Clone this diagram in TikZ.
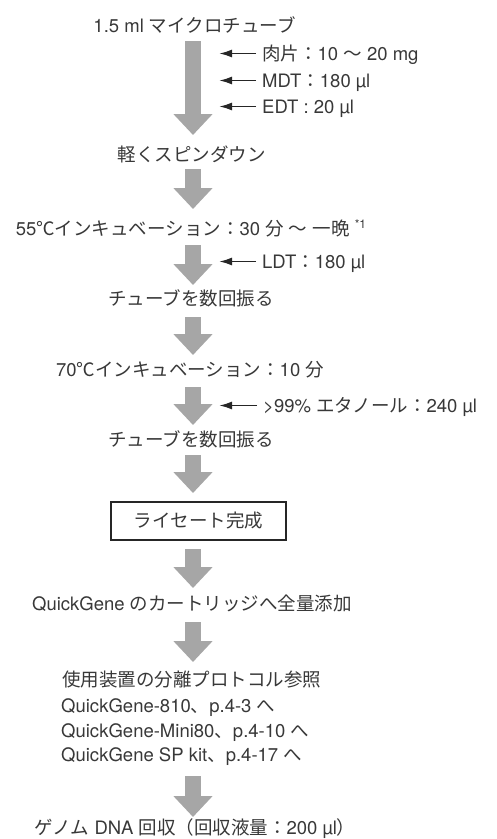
\documentclass[tikz,border=0pt]{standalone}
\usepackage{fontspec}
\setmainfont{TeX Gyre Heros}
\newfontfamily\jp{Noto Sans CJK JP}
\usetikzlibrary{arrows.meta}
\definecolor{agray}{HTML}{A6A6A6}
\definecolor{txt}{HTML}{383838}
\begin{document}
\begin{tikzpicture}[x=1pt,y=-1pt,
  font=\fontsize{18.5}{22}\selectfont,
  lbl/.style={anchor=base, inner sep=0pt, text=txt},
  side/.style={anchor=base west, inner sep=0pt, text=txt, text height=13pt, text depth=0pt},
  bigarrow/.style={draw=agray, line width=16pt, -{Triangle[length=21pt,width=38pt]}},
  addarrow/.style={draw=black!85, line width=1.8pt, -{Latex[length=13pt,width=8pt]}},
  lysbox/.style={draw=black!85, line width=1.1pt, minimum width=175pt, minimum height=38pt, inner sep=0pt, text=txt}]
\useasboundingbox (0,0) rectangle (497,839);

% column coordinate for the small arrows
\coordinate (col) at (219,0);

% texts
\node[lbl] (tube) at (194.5,32) {1.5 ml {\jp マイクロチューブ}};
\node[side] (meat) at (262,60) {{\jp 肉片：}10 {\jp ～} 20 mg};
\node[side] (mdt) at (262,87) {MDT{\jp ：}180 µl};
\node[side] (edt) at (262,113) {EDT : 20 µl};
\node[lbl] (spin) at (191.5,161) {\jp 軽くスピンダウン};
\node[lbl] (inc55) at (191,235) {55{\jp ℃インキュベーション：}30 {\jp 分} {\jp ～} {\jp 一晩} \raisebox{0.35em}{\fontsize{12}{12}\selectfont *1}};
\node[side] (ldt) at (262,268) {LDT{\jp ：}180 µl};
\node[lbl] (shake1) at (191,305) {\jp チューブを数回振る};
\node[lbl] (inc70) at (190,376) {70{\jp ℃インキュベーション：}10 {\jp 分}};
\node[side] (eth) at (263,412) {>99\% {\jp エタノール：}240 µl};
\node[lbl] (shake2) at (191,446) {\jp チューブを数回振る};
\node[lysbox] (lys) at (198.5,521) {\jp ライセート完成};
\node[lbl] (cart) at (192,610) {QuickGene {\jp のカートリッジへ全量添加}};
\node[side] (ref) at (62,686) {\jp 使用装置の分離プロトコル参照};
\node[side] (q810) at (61,712) {QuickGene-810{\jp 、}p.4-3 {\jp へ}};
\node[side] (mini) at (61,737) {QuickGene-Mini80{\jp 、}p.4-10 {\jp へ}};
\node[side] (sp) at (61,761) {QuickGene SP kit{\jp 、}p.4-17 {\jp へ}};
\node[lbl] (dna) at (195,834.5) {{\jp ゲノム} DNA {\jp 回収（回収液量：}200 µl{\jp ）}};

% big arrow end points
\coordinate (a1t) at (193,41);  \coordinate (a1b) at (193,135);
\coordinate (a2t) at (193,169); \coordinate (a2b) at (193,209);
\coordinate (a3t) at (193,245); \coordinate (a3b) at (193,285);
\coordinate (a4t) at (193,317); \coordinate (a4b) at (193,355);
\coordinate (a5t) at (193,387); \coordinate (a5b) at (193,425);
\coordinate (a6t) at (193,455); \coordinate (a6b) at (193,493);
\coordinate (a7t) at (193,549); \coordinate (a7b) at (193,588);
\coordinate (a8t) at (193,622); \coordinate (a8b) at (193,662);
\coordinate (a9t) at (193,776); \coordinate (a9b) at (193,817);
\foreach \i in {1,...,9} \draw[bigarrow] (a\i t) -- (a\i b);

% small addition arrows
\foreach \n in {meat,mdt,edt,ldt,eth}
  \draw[addarrow] ([xshift=-6pt]\n.west) -- (\n.west -| col);
\end{tikzpicture}
\end{document}
